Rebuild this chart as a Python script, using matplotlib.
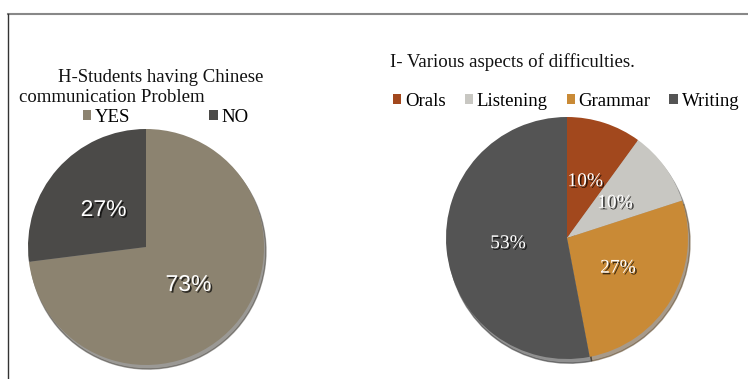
import matplotlib
matplotlib.use("Agg")
import matplotlib.pyplot as plt
import matplotlib.patheffects as pe
from matplotlib.lines import Line2D

# Left chart data
h_title = ["H-Students having Chinese", "communication Problem"]
h_labels = ["YES", "NO"]
h_values = [73, 27]
h_colors = ["#8c8370", "#4b4a48"]

# Right chart data
i_title = "I- Various aspects of difficulties."
i_labels = ["Orals", "Listening", "Grammar", "Writing"]
i_values = [10, 10, 27, 53]
i_colors = ["#a2481d", "#c8c7c2", "#c98a36", "#545454"]

W, H = 748, 379
fig = plt.figure(figsize=(W / 100, H / 100), dpi=100)
fig.patch.set_facecolor("white")


def px_box(x0, y0, w, h):
    # convert pixel box (top-left origin) into figure fraction
    return [x0 / W, 1 - (y0 + h) / H, w / W, h / H]


def fx(x):
    return x / W


def fy(y):
    return 1 - y / H


serif = "Liberation Serif"
sans = "Liberation Sans"
fs = 13.5
shadow = [pe.withSimplePatchShadow(offset=(1.2, -1.2), shadow_rgbFace="black", alpha=0.7)]

# ---- left pie ----
ax1 = fig.add_axes(px_box(28, 129, 236, 236))
w1, _, t1 = ax1.pie(h_values, colors=h_colors, startangle=90, counterclock=False,
                    autopct="%1.0f%%", pctdistance=0.48, radius=1.0,
                    shadow={"ox": 0.012, "oy": -0.025, "shade": 0.6})
for t in t1:
    t.set_color("white")
    t.set_fontfamily(sans)
    t.set_fontsize(16.5)
    t.set_path_effects(shadow)
ax1.set_xlim(-1, 1)
ax1.set_ylim(-1, 1)
ax1.axis("off")

fig.text(fx(58), fy(77), h_title[0], family=serif, fontsize=fs, va="center", ha="left", color="#111111")
fig.text(fx(19), fy(98), h_title[1], family=serif, fontsize=fs, va="center", ha="left", color="#111111")

ax1.legend(w1, h_labels, loc="center left", bbox_to_anchor=(fx(83), fy(117)),
           bbox_transform=fig.transFigure, ncol=2, frameon=False,
           prop={"family": serif, "size": fs}, handlelength=0.45, handleheight=0.45,
           handletextpad=0.2, columnspacing=4.2, borderpad=0, borderaxespad=0)

# ---- right pie ----
ax2 = fig.add_axes(px_box(446, 117, 242, 242))
w2, _, t2 = ax2.pie(i_values, colors=i_colors, startangle=90, counterclock=False,
                    autopct="%1.0f%%", pctdistance=0.49, radius=1.0,
                    shadow={"ox": 0.012, "oy": -0.025, "shade": 0.6})
for t in t2:
    t.set_color("white")
    t.set_fontfamily(serif)
    t.set_fontsize(14)
    t.set_path_effects(shadow)
ax2.set_xlim(-1, 1)
ax2.set_ylim(-1, 1)
ax2.axis("off")

fig.text(fx(390), fy(62), i_title, family=serif, fontsize=13.6, va="center", ha="left", color="#111111")

# legend nearly touches the right edge, as in the reference
ax2.legend(w2, i_labels, loc="center left", bbox_to_anchor=(fx(393), fy(101)),
           bbox_transform=fig.transFigure, ncol=4, frameon=False,
           prop={"family": serif, "size": fs}, handlelength=0.45, handleheight=0.45,
           handletextpad=0.2, columnspacing=1.0, borderpad=0, borderaxespad=0)

# frame lines of the screenshot
fig.add_artist(Line2D([fx(8), 1], [fy(14), fy(14)], color="#888888", lw=1.5))
fig.add_artist(Line2D([fx(8), fx(8)], [fy(14), 0], color="#333333", lw=1.0))

fig.savefig("out.png", dpi=100)
